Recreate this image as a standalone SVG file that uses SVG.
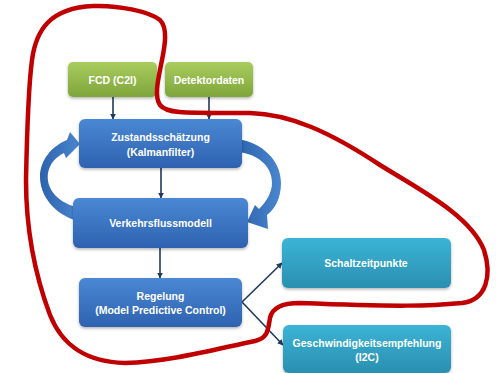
<svg xmlns="http://www.w3.org/2000/svg" width="498" height="373" viewBox="0 0 498 373">
<defs>
<linearGradient id="gGreen" x1="0" y1="0" x2="0" y2="1"><stop offset="0" stop-color="#a9cc5e"/><stop offset="1" stop-color="#7ea53a"/></linearGradient>
<linearGradient id="gBlue" x1="0" y1="0" x2="0" y2="1"><stop offset="0" stop-color="#4a88d4"/><stop offset="1" stop-color="#2e62b0"/></linearGradient>
<linearGradient id="gTeal" x1="0" y1="0" x2="0" y2="1"><stop offset="0" stop-color="#3bb4d6"/><stop offset="1" stop-color="#2a8fb0"/></linearGradient>
<linearGradient id="gArrow" x1="0" y1="0" x2="1" y2="0"><stop offset="0" stop-color="#2d63ad"/><stop offset="1" stop-color="#4a86cf"/></linearGradient>
<filter id="sh" x="-10%" y="-10%" width="120%" height="130%"><feDropShadow dx="0" dy="1.5" stdDeviation="1.5" flood-color="#000" flood-opacity="0.3"/></filter>
<marker id="ah" viewBox="0 0 10 10" refX="9" refY="5" markerWidth="6" markerHeight="6" orient="auto" markerUnits="userSpaceOnUse"><path d="M0,0 L10,5 L0,10 Z" fill="#1f3a60"/></marker>
</defs>
<style>
.box{filter:url(#sh);}
.t{font-family:"Liberation Sans",Arial,sans-serif;font-weight:bold;font-size:10.5px;fill:#ffffff;text-anchor:middle;}
.c{stroke:#1f3a60;stroke-width:1.6;fill:none;marker-end:url(#ah);}
</style>
<rect width="498" height="373" fill="#ffffff"/>
<g id="loops">
<path d="M76 207 C55 201 46 187 48 173 C50 163 56 157 64 153 L66 158 L80 144 L70 132 L67 140 C52 146 40 160 40 177 C40 196 55 215 78 221 Z" fill="url(#gArrow)"/>
<path d="M238 139 C262 143 281 160 281 183 C281 198 275 209 267 215 L268 229 L247 222 L255 205 L259 209 C266 202 272 193 272 183 C272 166 258 154 238 152 Z" fill="url(#gArrow)"/>
</g>
<g id="connectors">
<line class="c" x1="113" y1="97" x2="113" y2="119"/>
<line class="c" x1="209" y1="97" x2="209" y2="119"/>
<line class="c" x1="161" y1="168" x2="161" y2="198"/>
<line class="c" x1="160" y1="248" x2="160" y2="278"/>
<line class="c" x1="242" y1="302" x2="282" y2="263"/>
<line class="c" x1="242" y1="302" x2="283" y2="345"/>
</g>
<g id="fcd"><rect class="box" x="68" y="62" width="89" height="35" rx="5" fill="url(#gGreen)"/><text class="t" x="112.5" y="83.5">FCD (C2I)</text></g>
<g id="detektor"><rect class="box" x="165" y="62" width="88" height="35" rx="5" fill="url(#gGreen)"/><text class="t" x="209" y="83.5">Detektordaten</text></g>
<g id="zustand"><rect class="box" x="79" y="119" width="163" height="49" rx="6" fill="url(#gBlue)"/><text class="t" x="160.5" y="140.5">Zustandsschätzung</text><text class="t" x="160.5" y="155.5">(Kalmanfilter)</text></g>
<g id="verkehr"><rect class="box" x="73" y="198" width="175" height="50" rx="6" fill="url(#gBlue)"/><text class="t" x="160.5" y="226.5">Verkehrsflussmodell</text></g>
<g id="regelung"><rect class="box" x="79" y="278" width="163" height="49" rx="6" fill="url(#gBlue)"/><text class="t" x="160.5" y="299.5">Regelung</text><text class="t" x="160.5" y="314">(Model Predictive Control)</text></g>
<g id="schalt"><rect class="box" x="282" y="238" width="169" height="50" rx="6" fill="url(#gTeal)"/><text class="t" x="366" y="266.5">Schaltzeitpunkte</text></g>
<g id="geschw"><rect class="box" x="283" y="325" width="168" height="48" rx="6" fill="url(#gTeal)"/><text class="t" x="367" y="346.5">Geschwindigkeitsempfehlung</text><text class="t" x="367" y="361">(I2C)</text></g>
<g id="outline">
<path d="M93 6 C120 5 150 12 160 20 C168 28 165 45 162 60 C158 80 154 96 160 105 C167 114 185 113 250 113 C290 114 330 132 380 165 C420 190 470 215 484 250 C492 275 487 300 462 303 C430 306 400 307 300 303 C282 303 272 308 270 318 C268 330 268 338 255 341 C220 348 170 362 125 363 C85 362 62 345 50 315 C35 275 26 230 26 180 C27 130 28 90 32 60 C36 30 50 8 93 6 Z" fill="none" stroke="#c00000" stroke-width="4.5"/>
</g>
</svg>
